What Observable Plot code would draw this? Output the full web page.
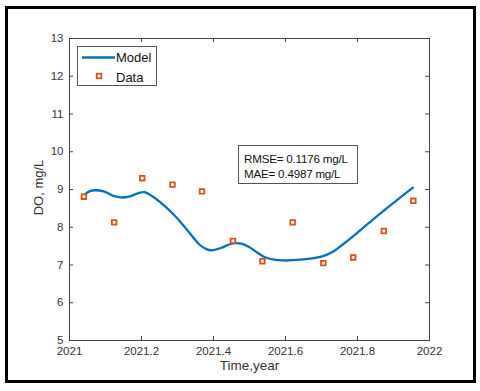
<!DOCTYPE html>
<html>
<head>
<meta charset="utf-8">
<script src="https://cdn.jsdelivr.net/npm/d3@7"></script>
<script src="https://cdn.jsdelivr.net/npm/@observablehq/plot@0.6"></script>
<style>
  html, body { margin: 0; padding: 0; background: #fff; }
  #wrap { position: relative; width: 480px; height: 391px; overflow: hidden; font-family: "Liberation Sans", Arial, sans-serif; }
  #border { position: absolute; left: 5px; top: 6px; width: 471px; height: 377px; box-sizing: border-box; border: 3px solid #000; pointer-events: none; }
  .box { position: absolute; background: #fff; border: 1px solid #555; box-sizing: border-box; color: #111; }
  #legend { left: 77px; top: 46px; width: 80px; height: 40px; font-size: 13px; }
  #stats { left: 238px; top: 145px; width: 120px; height: 39px; font-size: 11.6px; letter-spacing: -0.2px; padding: 6px 0 0 5px; line-height: 14.5px; }
</style>
</head>
<body>
<div id="wrap">
  <div id="chart"></div>
  <div id="legend" class="box"></div>
  <div id="stats" class="box"></div>
  <div id="border"></div>
</div>
<script>
// Monthly observations (decimal year) and DO values (mg/L)
const dataTime = [2021.040, 2021.124, 2021.202, 2021.286, 2021.368, 2021.454, 2021.536, 2021.620, 2021.705, 2021.788, 2021.873, 2021.955];
const dataDO   = [8.81, 8.13, 9.30, 9.13, 8.95, 7.64, 7.10, 8.13, 7.05, 7.20, 7.90, 8.70];

// Model curve
const modelTime = [2021.040, 2021.055, 2021.072, 2021.095, 2021.120, 2021.142, 2021.165, 2021.190, 2021.208, 2021.230, 2021.260, 2021.290, 2021.325, 2021.360, 2021.380, 2021.395, 2021.420, 2021.445, 2021.462, 2021.480, 2021.500, 2021.520, 2021.540, 2021.568, 2021.595, 2021.642, 2021.690, 2021.712, 2021.735, 2021.760, 2021.790, 2021.830, 2021.873, 2021.915, 2021.954];
const modelDO   = [8.84, 8.95, 8.98, 8.95, 8.84, 8.79, 8.81, 8.90, 8.93, 8.82, 8.60, 8.33, 7.95, 7.55, 7.42, 7.39, 7.45, 7.55, 7.58, 7.56, 7.47, 7.34, 7.22, 7.14, 7.12, 7.14, 7.20, 7.26, 7.37, 7.55, 7.78, 8.10, 8.44, 8.76, 9.05];

// Axes
const xTicks = [2021, 2021.2, 2021.4, 2021.6, 2021.8, 2022];
const xTickLabels = ["2021", "2021.2", "2021.4", "2021.6", "2021.8", "2022"];
const yTicks = [5, 6, 7, 8, 9, 10, 11, 12, 13];
const yTickLabels = ["5", "6", "7", "8", "9", "10", "11", "12", "13"];
const xLabel = "Time,year";
const yLabel = "DO, mg/L";

// Legend & statistics
const seriesNames = ["Model", "Data"];
const statLabels = ["RMSE= 0.1176 mg/L", "MAE= 0.4987 mg/L"];

const blue = "#0072BD";
const orange = "#D95319";
const axisColor = "#444";

const W = 480, H = 391;
const mL = 69, mR = 51, mT = 38, mB = 51;
const plotW = W - mL - mR, plotH = H - mT - mB;

const points = dataTime.map((t, i) => ({t, v: dataDO[i]}));
const model = modelTime.map((t, i) => ({t, v: modelDO[i]}));

const chart = Plot.plot({
  width: W,
  height: H,
  marginLeft: mL,
  marginRight: mR,
  marginTop: mT,
  marginBottom: mB,
  style: {background: "#fff", fontFamily: "Liberation Sans, Arial, sans-serif", color: "#333"},
  x: {domain: [2021, 2022]},
  y: {domain: [5, 13]},
  marks: [
    Plot.frame({stroke: axisColor, strokeWidth: 1}),
    Plot.tickX(xTicks, {x: d => d, insetTop: plotH - 4, stroke: axisColor}),
    Plot.tickX(xTicks, {x: d => d, insetBottom: plotH - 4, stroke: axisColor}),
    Plot.tickY(yTicks, {y: d => d, insetRight: plotW - 4, stroke: axisColor}),
    Plot.tickY(yTicks, {y: d => d, insetLeft: plotW - 4, stroke: axisColor}),
    Plot.axisX({ticks: xTicks, tickSize: 0, tickPadding: 6, fontSize: 11.5, label: null, fill: "#333",
      tickFormat: d => xTickLabels[xTicks.findIndex(t => Math.abs(t - d) < 1e-9)]}),
    Plot.axisY({ticks: yTicks, tickSize: 0, tickPadding: 6, fontSize: 11.5, label: null, fill: "#333",
      tickFormat: d => yTickLabels[yTicks.findIndex(t => Math.abs(t - d) < 1e-9)]}),
    Plot.text([xLabel], {frameAnchor: "bottom", dy: 29, fontSize: 13.5, fill: "#333", textAnchor: "middle"}),
    Plot.text([yLabel], {frameAnchor: "left", dx: -31, dy: -2, rotate: -90, fontSize: 13, fill: "#333", textAnchor: "middle"}),
    Plot.line(model, {x: "t", y: "v", stroke: blue, strokeWidth: 2.3, curve: "catmull-rom"}),
    Plot.dot(points, {x: "t", y: "v", symbol: "square", r: 2.6, stroke: orange, strokeWidth: 1.8, fill: "#fff"})
  ]
});
document.getElementById("chart").appendChild(chart);

// Legend
const legend = document.getElementById("legend");
legend.innerHTML = `
<svg width="78" height="38" style="position:absolute;left:0;top:0">
  <line x1="4" y1="10.5" x2="37" y2="10.5" stroke="${blue}" stroke-width="2.3"/>
  <rect x="18.7" y="26.7" width="4.6" height="4.6" fill="#fff" stroke="${orange}" stroke-width="1.8"/>
  <text x="38" y="15" font-size="13" fill="#111" font-family="Liberation Sans, Arial, sans-serif">${seriesNames[0]}</text>
  <text x="38" y="35" font-size="13" fill="#111" font-family="Liberation Sans, Arial, sans-serif">${seriesNames[1]}</text>
</svg>`;

// Statistics box
document.getElementById("stats").innerHTML = statLabels.map(s => `<div>${s}</div>`).join("");
</script>
</body>
</html>
